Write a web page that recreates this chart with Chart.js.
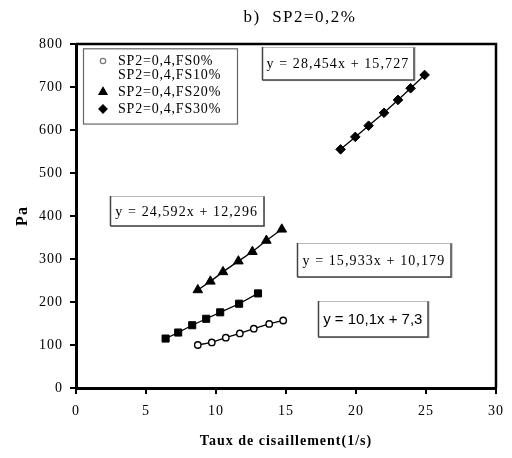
<!DOCTYPE html>
<html>
<head>
<meta charset="utf-8">
<script src="https://cdn.jsdelivr.net/npm/chart.js@4/dist/chart.umd.min.js"></script>
<style>
  html, body { margin: 0; padding: 0; background: #fff; }
  #wrap { width: 512px; height: 458px; }
</style>
</head>
<body>
<div id="wrap"><canvas id="c" width="512" height="458"></canvas></div>
<script>
// ---- data ----
const seriesNames = ['SP2=0,4,FS0%', 'SP2=0,4,FS10%', 'SP2=0,4,FS20%', 'SP2=0,4,FS30%'];
const xFS0  = [8.7, 9.7, 10.7, 11.7, 12.7, 13.8, 14.8];
const yFS0  = [100, 106, 117, 127, 138, 149, 157];
const xFS10 = [6.4, 7.3, 8.3, 9.3, 10.3, 11.65, 13.0];
const yFS10 = [115, 129, 146, 161, 176, 196, 220];
const xFS20 = [8.7, 9.6, 10.5, 11.6, 12.6, 13.6, 14.7];
const yFS20 = [228, 248, 270, 295, 317, 343, 369];
const xFS30 = [18.9, 19.95, 20.9, 22.0, 23.0, 23.9, 24.9];
const yFS30 = [555, 584, 610, 640, 670, 697, 728];
const equations = ['y = 10,1x + 7,3', 'y = 15,933x + 10,179', 'y = 24,592x + 12,296', 'y = 28,454x + 15,727'];
const chartTitle = 'b)  SP2=0,2%';
const xTitle = 'Taux de cisaillement(1/s)';
const yTitle = 'Pa';
const xMin = 0, xMax = 30, xStep = 5;
const yMin = 0, yMax = 800, yStep = 100;

// ---- styling / placement (not data) ----
const SERIF = "'Liberation Serif', 'Times New Roman', serif";
const SANS = "'Liberation Sans', Arial, sans-serif";
// equation boxes given in data coordinates (x1,x2,y1,y2)
const eqBoxes = [
  {text: equations[0], x1: 17.25, x2: 25.15, y1: 202, y2: 118, font: '15px ' + SANS, spacing: '0px'},
  {text: equations[1], x1: 15.75, x2: 26.8, y1: 337, y2: 258, font: '14px ' + SERIF, spacing: '1.1px'},
  {text: equations[2], x1: 2.42, x2: 13.4, y1: 446, y2: 377, font: '14px ' + SERIF, spacing: '1.1px'},
  {text: equations[3], x1: 13.26, x2: 24.16, y1: 793, y2: 716, font: '14px ' + SERIF, spacing: '1.1px'}
];

function pts(xs, ys) { return xs.map((x, i) => ({x: x, y: ys[i]})); }

const styles = [
  {pointStyle: 'circle', radius: 3.2, bg: '#fff', bw: 1.4},
  {pointStyle: 'rect', radius: 5, bg: '#000', bw: 1},
  {pointStyle: 'triangle', radius: 5.5, bg: '#000', bw: 1},
  {pointStyle: 'rectRot', radius: 4.8, bg: '#000', bw: 1}
];
const allX = [xFS0, xFS10, xFS20, xFS30];
const allY = [yFS0, yFS10, yFS20, yFS30];

const datasets = seriesNames.map((name, i) => ({
  label: name,
  data: pts(allX[i], allY[i]),
  showLine: true,
  borderColor: '#000',
  borderWidth: 1.3,
  pointStyle: styles[i].pointStyle,
  pointRadius: styles[i].radius,
  pointBackgroundColor: styles[i].bg,
  pointBorderColor: '#000',
  pointBorderWidth: styles[i].bw,
  fill: false,
  tension: 0
}));

const decor = {
  id: 'decor',
  beforeDraw(chart) {
    chart.ctx.letterSpacing = '1px';
  },
  afterDraw(chart) {
    const ctx = chart.ctx;
    const a = chart.chartArea;
    const xs = chart.scales.x, ys = chart.scales.y;
    ctx.save();
    // frame top / right
    ctx.strokeStyle = '#000';
    ctx.lineWidth = 2.5;
    ctx.beginPath();
    ctx.moveTo(a.left, a.top);
    ctx.lineTo(a.right, a.top);
    ctx.lineTo(a.right, a.bottom);
    ctx.stroke();

    // title
    ctx.fillStyle = '#000';
    ctx.font = '17px ' + SERIF;
    ctx.letterSpacing = '1.5px';
    ctx.textAlign = 'center';
    ctx.textBaseline = 'middle';
    ctx.fillText(chartTitle, 300, 18);

    // legend box
    const lx1 = xs.getPixelForValue(0.5), lx2 = xs.getPixelForValue(11.5);
    const ly1 = ys.getPixelForValue(790), ly2 = ys.getPixelForValue(615);
    ctx.fillStyle = '#fff';
    ctx.fillRect(lx1, ly1, lx2 - lx1, ly2 - ly1);
    ctx.strokeStyle = '#666';
    ctx.lineWidth = 1.2;
    ctx.strokeRect(lx1 + 0.5, ly1 + 0.5, lx2 - lx1, ly2 - ly1);
    const rowsY = [61, 75, 92, 109];
    ctx.font = '14px ' + SERIF;
    ctx.letterSpacing = '0.8px';
    ctx.textAlign = 'left';
    ctx.textBaseline = 'middle';
    seriesNames.forEach((name, i) => {
      const y = rowsY[i];
      if (i !== 1) {
        ctx.save();
        ctx.fillStyle = styles[i].bg;
        ctx.strokeStyle = i === 0 ? '#777' : '#000';
        ctx.lineWidth = 1.2;
        Chart.helpers.drawPoint(ctx, {pointStyle: styles[i].pointStyle, radius: styles[i].radius * 0.85, rotation: 0, borderWidth: 1.2}, lx1 + 20, y);
        ctx.restore();
      }
      ctx.fillStyle = '#000';
      ctx.fillText(name, lx1 + 35, y);
    });

    // equation boxes
    eqBoxes.forEach(b => {
      const x1 = xs.getPixelForValue(b.x1), x2 = xs.getPixelForValue(b.x2);
      const y1 = ys.getPixelForValue(b.y1), y2 = ys.getPixelForValue(b.y2);
      ctx.fillStyle = '#fff';
      ctx.fillRect(x1, y1, x2 - x1, y2 - y1);
      ctx.strokeStyle = '#bbb';
      ctx.lineWidth = 1;
      ctx.strokeRect(Math.round(x1) + 0.5, Math.round(y1) + 0.5, x2 - x1, y2 - y1);
      ctx.strokeStyle = '#444';
      ctx.lineWidth = 1.5;
      ctx.beginPath();
      ctx.moveTo(Math.round(x1) + 0.5, Math.round(y2));
      ctx.lineTo(Math.round(x2), Math.round(y2));
      ctx.lineTo(Math.round(x2), Math.round(y1) + 0.5);
      ctx.moveTo(Math.round(x1) + 0.5, Math.round(y1));
      ctx.lineTo(Math.round(x1) + 0.5, Math.round(y2));
      ctx.stroke();
      ctx.fillStyle = '#000';
      ctx.font = b.font;
      ctx.letterSpacing = b.spacing;
      ctx.textAlign = 'center';
      ctx.textBaseline = 'middle';
      ctx.fillText(b.text, (x1 + x2) / 2, (y1 + y2) / 2 + 1);
    });
    ctx.restore();
  }
};

new Chart(document.getElementById('c'), {
  type: 'scatter',
  data: {datasets: datasets},
  plugins: [decor],
  options: {
    responsive: false,
    animation: false,
    devicePixelRatio: 1,
    layout: {padding: {top: 44, right: 15, left: 0, bottom: 0}},
    plugins: {
      legend: {display: false},
      title: {display: false},
      tooltip: {enabled: false}
    },
    scales: {
      x: {
        type: 'linear',
        min: xMin, max: xMax,
        afterFit(s) { s.height = 70; },
        ticks: {stepSize: xStep, color: '#000', font: {family: SERIF, size: 14}, padding: 9, maxRotation: 0},
        grid: {display: true, drawOnChartArea: false, drawTicks: true, tickLength: 6, color: '#000', lineWidth: 2},
        border: {display: true, color: '#000', width: 3},
        title: {display: true, text: xTitle, color: '#000', font: {family: SERIF, size: 14, weight: 'bold'}, padding: {top: 0, bottom: 8}}
      },
      y: {
        type: 'linear',
        min: yMin, max: yMax,
        afterFit(s) { s.width = 76; },
        ticks: {stepSize: yStep, color: '#000', font: {family: SERIF, size: 14}, padding: 7},
        grid: {display: true, drawOnChartArea: false, drawTicks: true, tickLength: 6, color: '#000', lineWidth: 2},
        border: {display: true, color: '#000', width: 3},
        title: {display: true, text: yTitle, color: '#000', font: {family: SERIF, size: 16, weight: 'bold'}, padding: {top: 13, bottom: 0}}
      }
    }
  }
});
</script>
</body>
</html>
